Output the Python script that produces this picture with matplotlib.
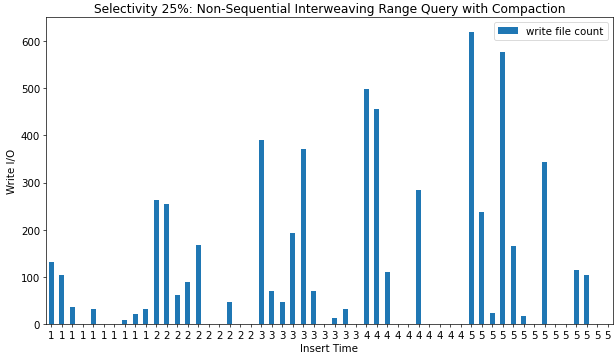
import numpy as np
import matplotlib; matplotlib.use('Agg'); import matplotlib.pyplot as plt

# insert-time label for each bar (10 x 1..4, 14 x 5)
insert_time = ['1'] * 10 + ['2'] * 10 + ['3'] * 10 + ['4'] * 10 + ['5'] * 14
write_file_count = [
    131, 103, 37, 0, 31, 0, 0, 8, 21, 31,          # 1
    262, 254, 62, 90, 168, 0, 0, 46, 0, 0,         # 2
    390, 69, 47, 194, 372, 71, 0, 12, 32, 0,       # 3
    499, 456, 110, 0, 0, 285, 0, 0, 0, 0,          # 4
    620, 237, 23, 577, 165, 16, 0, 343, 0, 0, 115, 103, 0, 0,  # 5
]

plt.rcParams['font.size'] = 12
fig, ax = plt.subplots(figsize=(10, 5.81), dpi=61.6)
x = np.arange(len(write_file_count))
ax.bar(x, write_file_count, 0.5, color='#1f77b4', label='write file count')
ax.set_xticks(x); ax.set_xticklabels(insert_time, rotation=0)
ax.set_xlim(-0.5, len(x) - 0.5)
ax.set_xlabel('Insert Time'); ax.set_ylabel('Write I/O')
ax.set_title('Selectivity 25%: Non-Sequential Interweaving Range Query with Compaction')
ax.legend(loc='upper right')
fig.subplots_adjust(left=46 / 616, right=613 / 616, top=1 - 18 / 358, bottom=1 - 325 / 358)
fig.savefig('out.png', dpi=61.6)
